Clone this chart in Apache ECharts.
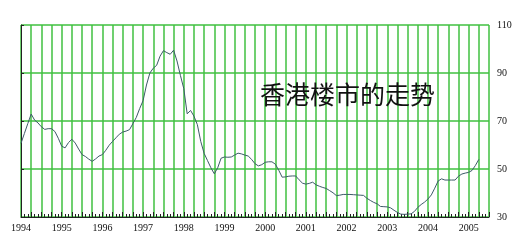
<!DOCTYPE html>
<html>
<head>
<meta charset="utf-8">
<script src="https://cdn.jsdelivr.net/npm/echarts@6/dist/echarts.min.js"></script>
<style>html,body{margin:0;padding:0;background:#fff;}#c{width:523px;height:249px;}</style>
</head>
<body>
<div id="c"></div>
<script>
// Monthly index, starting Jan 1994 (month 0)
var years = ['1994','1995','1996','1997','1998','1999','2000','2001','2002','2003','2004','2005'];
var yTicks = [30, 50, 70, 90, 110];
var values = [
60.7,64.8,68.9,72.9,70.4,69.2,67.6,66.5,66.8,66.8,65.6,62.8,
59.5,58.8,61.0,62.4,60.8,58.3,56.0,55.2,54.1,53.2,54.2,55.4,
56.0,57.8,59.9,61.5,63.0,64.5,65.4,65.8,66.4,68.9,71.5,75.2,
78.5,85.0,90.0,92.0,93.2,97.0,99.3,98.5,97.8,99.5,95.0,89.0,
83.5,73.0,74.4,72.0,68.5,61.5,56.5,53.5,50.5,48.0,50.5,54.5,
55.0,54.9,55.0,55.8,56.6,56.3,55.8,55.4,54.0,52.2,51.3,51.8,
52.8,53.0,53.0,52.0,49.5,46.6,46.7,47.0,47.1,47.1,45.5,44.1,
43.7,44.0,44.5,43.4,42.8,42.3,41.9,41.0,40.1,38.9,39.1,39.4,
39.4,39.4,39.3,39.2,39.1,39.0,37.8,36.9,36.1,35.5,34.4,34.3,
34.2,33.8,32.8,31.9,31.2,31.1,31.2,31.3,32.3,34.0,35.2,36.2,
37.5,39.2,42.0,45.0,45.9,45.4,45.4,45.4,45.4,47.0,47.9,48.3,
48.6,49.4,51.5,54.0
];
var title = '香港楼市的走势';

var seriesData = values.map(function(v, i){ return [i, v]; });
var green = '#40c040';
var chart = echarts.init(document.getElementById('c'), null, {renderer:'canvas'});
chart.setOption({
  animation: false,
  backgroundColor: '#fff',
  grid: {left: 21, right: 34, top: 25, bottom: 32, containLabel: false},
  xAxis: {
    type: 'value', min: 0, max: 138, interval: 3,
    axisLine: {show: true, lineStyle: {color: '#222', width: 1}},
    axisTick: {show: true, inside: true, length: 5, lineStyle: {color: '#222'}},
    minorTick: {show: true, splitNumber: 3, length: 3, lineStyle: {color: '#222'}},
    axisLabel: {
      fontFamily: 'Liberation Serif', fontSize: 10, color: '#111', margin: 6,
      formatter: function(v){ return (v % 12 === 0 && years[v/12]) ? years[v/12] : ''; }
    },
    splitLine: {show: true, lineStyle: {color: green, width: 1.5}}
  },
  yAxis: {
    type: 'value', position: 'right', min: yTicks[0], max: yTicks[yTicks.length-1], interval: 20,
    axisLine: {show: true, lineStyle: {color: '#222', width: 1}},
    axisTick: {show: true, length: 3, lineStyle: {color: '#222'}},
    axisLabel: {fontFamily: 'Liberation Serif', fontSize: 10, color: '#111', margin: 8},
    splitLine: {show: true, lineStyle: {color: green, width: 1.5}}
  },
  graphic: [{
    type: 'text', left: 260, top: 82, z: 100,
    style: {text: title, font: '25px "Noto Sans CJK SC"', fill: '#111'}
  }],
  series: [{
    type: 'line', data: seriesData, showSymbol: false, smooth: false,
    lineStyle: {color: '#3d5b68', width: 1}, z: 5
  }]
});
</script>
</body>
</html>
